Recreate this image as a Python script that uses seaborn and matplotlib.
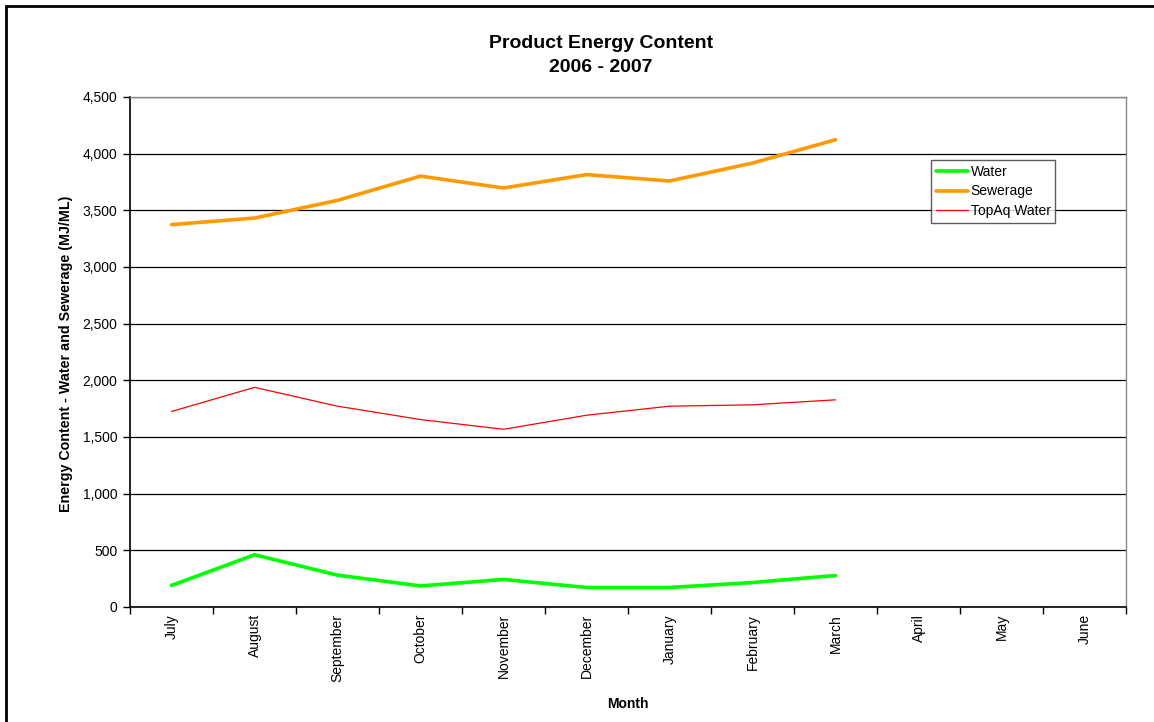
import matplotlib
matplotlib.use("Agg")
import matplotlib.pyplot as plt
from matplotlib.patches import Rectangle
from matplotlib.ticker import FuncFormatter, FixedLocator
import seaborn as sns
import pandas as pd
import numpy as np

# Monthly energy content (MJ/ML), financial year July 2006 - June 2007
months = ["July", "August", "September", "October", "November", "December",
          "January", "February", "March", "April", "May", "June"]
water = [190, 461, 281, 186, 243, 172, 172, 216, 278]
sewerage = [3374, 3432, 3588, 3802, 3697, 3815, 3759, 3917, 4123]
topaq_water = [1725, 1938, 1772, 1654, 1568, 1692, 1772, 1784, 1828]

series_names = ["Water", "Sewerage", "TopAq Water"]
series_values = [water, sewerage, topaq_water]
series_colors = ["#00FF00", "#FF9900", "#FF0000"]
series_widths = [2.6, 2.6, 0.9]

sns.set_theme(style="white")
plt.rcParams["font.family"] = ["Liberation Sans", "DejaVu Sans"]
plt.rcParams["text.color"] = "black"
plt.rcParams["xtick.color"] = "black"
plt.rcParams["ytick.color"] = "black"

fig = plt.figure(figsize=(11.54, 7.22), dpi=100)
ax = fig.add_axes([130 / 1154, 1 - 607 / 722, 996 / 1154, 510 / 722])

for name, vals, col, lw in zip(series_names, series_values, series_colors, series_widths):
    df = pd.DataFrame({"pos": np.arange(len(vals)), "value": vals})
    sns.lineplot(data=df, x="pos", y="value", ax=ax, color=col, linewidth=lw,
                 label=name, solid_joinstyle="miter")

ax.set_xlim(-0.5, len(months) - 0.5)
ax.set_ylim(0, 4500)
ax.set_yticks(np.arange(0, 4501, 500))
ax.yaxis.set_major_formatter(FuncFormatter(lambda v, p: f"{int(v):,}"))
ax.grid(axis="y", color="black", linewidth=0.9)
ax.set_axisbelow(True)

# category ticks sit between months, labels at month centres
ax.xaxis.set_major_locator(FixedLocator(np.arange(-0.5, len(months), 1.0)))
ax.xaxis.set_minor_locator(FixedLocator(np.arange(len(months))))
ax.set_xticklabels([])
ax.set_xticklabels(months, minor=True, rotation=90, fontsize=10, va="top")
ax.tick_params(axis="x", which="minor", length=0, pad=5)
ax.tick_params(axis="x", which="major", length=5, width=1, color="black", direction="out", bottom=True)
ax.tick_params(axis="y", length=5, width=1, color="black", direction="out", left=True,
               labelsize=10, pad=4)

for side in ["left", "bottom"]:
    ax.spines[side].set_color("black")
    ax.spines[side].set_linewidth(1.2)
for side in ["top", "right"]:
    ax.spines[side].set_color("#888888")
    ax.spines[side].set_linewidth(1.0)

ax.set_xlabel("")
ax.set_ylabel("")
fig.text(66 / 1154, 1 - 354 / 722, "Energy Content - Water and Sewerage (MJ/ML)",
         rotation=90, ha="center", va="center", fontsize=10.3, fontweight="bold")
fig.text(628 / 1154, 1 - 704 / 722, "Month", ha="center", va="center",
         fontsize=10, fontweight="bold")
fig.text(601 / 1154, 1 - 43 / 722, "Product Energy Content", ha="center", va="center",
         fontsize=14, fontweight="bold")
fig.text(601 / 1154, 1 - 68 / 722, "2006 - 2007", ha="center", va="center",
         fontsize=14, fontweight="bold")

leg = ax.legend(loc="upper left", bbox_to_anchor=((931 - 130) / 996, (607 - 160) / 510),
                frameon=True, fancybox=False, fontsize=10, handlelength=2.3,
                handletextpad=0.2, borderpad=0.35, labelspacing=0.4, borderaxespad=0)
leg.get_frame().set_edgecolor("#333333")
leg.get_frame().set_linewidth(1.0)

# outer chart frame
fig.patches.append(Rectangle((6 / 1154, -0.1), 2.0, 1 - 6 / 722 + 0.1,
                             transform=fig.transFigure, fill=False,
                             edgecolor="black", linewidth=2.0))

fig.savefig("out.png", dpi=100)
